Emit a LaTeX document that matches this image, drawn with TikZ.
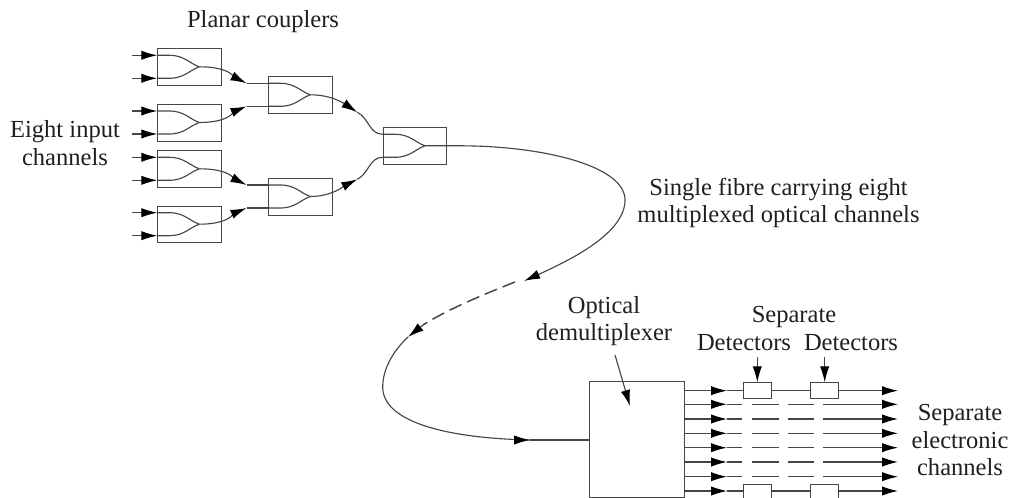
\documentclass[tikz,border=0pt]{standalone}
\usepackage{fontspec}
\setmainfont{Liberation Serif}
\usetikzlibrary{arrows.meta,calc}
\definecolor{ln}{gray}{0.27}
\tikzset{
 x=0.75pt,y=-0.75pt,
 fib/.style={draw=ln,line width=0.85pt},
 tip/.style={fib,-{Latex[length=12pt,width=7pt,black]}},
 boxn/.style={draw=ln,line width=0.85pt,minimum width=47.5pt,minimum height=27.5pt,inner sep=0,anchor=north west},
 det/.style={draw=ln,line width=0.85pt,minimum width=21pt,minimum height=11.5pt,inner sep=0},
 lab/.style={font=\fontsize{18.4}{20.6}\selectfont,align=center,text=black!88,inner sep=0},
}
\newcommand{\cpl}[3]{%
 \node[boxn] (#1) at (#2,#3) {};
 \coordinate (#1a) at (#2,#3+7);
 \coordinate (#1b) at (#2,#3+30);
 \coordinate (#1m) at (#2+42,#3+18.5);
 \coordinate (#1o) at (#2+64,#3+18.5);
 \draw[fib] (#1a) -- (#2+12,#3+7) .. controls (#2+27,#3+7) and (#2+32,#3+15) .. (#1m);
 \draw[fib] (#1b) -- (#2+12,#3+30) .. controls (#2+27,#3+30) and (#2+32,#3+22) .. (#1m);
}
\newcommand{\inp}[1]{%
 \coordinate (s) at ($(#1a)+(-25,0)$);
 \draw[tip] (s) -- (#1a);
 \coordinate (s) at ($(#1b)+(-25,0)$);
 \draw[tip] (s) -- (#1b);
}
\newcommand{\lnk}[3]{%
 \coordinate (t) at ($(#2)+(-21.7,0)$);
 \draw[fib] (t) -- (#2);
 \draw[tip] (#1) .. controls +(30,0) and +(#3) .. (t);
}
\begin{document}
\begin{tikzpicture}
\path[use as bounding box] (0,0) rectangle (1009,498);
\clip (0,0) rectangle (1009,498);
\cpl{A}{157.3}{48.3}
\cpl{B}{157.3}{104}
\cpl{C}{157.3}{150.3}
\cpl{D}{157.3}{205.7}
\cpl{E}{268.3}{76.3}
\cpl{F}{268.3}{178}
\cpl{G}{383}{127.3}
\inp{A}\inp{B}\inp{C}\inp{D}
\lnk{Am}{Ea}{-12,-6}
\lnk{Bm}{Eb}{-12,5}
\lnk{Cm}{Fa}{-12,-6}
\lnk{Dm}{Fb}{-12,5}
\coordinate (e1) at (357.3,112.3);
\coordinate (f1) at (357.3,179.3);
\draw[tip] (Em) .. controls +(22,0) and +(-12,-8) .. (e1);
\draw[tip] (Fm) .. controls +(22,0) and +(-12,6) .. (f1);
\draw[fib] (e1) .. controls +(12,6) and +(-14,0) .. (Ga);
\draw[fib] (f1) .. controls +(12,-6) and +(-14,0) .. (Gb);
\coordinate (q0) at (625,200);
\coordinate (p1) at (524,281);
\coordinate (p2) at (515,282);
\coordinate (p3) at (423,325);
\coordinate (p4) at (408,337);
\coordinate (q1) at (382.7,387);
\coordinate (p5) at (530,440);
\draw[fib] (Gm) -- (460,145.8) .. controls (540,145.8) and (625,165) .. (q0);
\draw[tip] (q0) .. controls (625,232) and (575,258) .. (p1);
\draw[fib,line width=1.1pt,dash pattern=on 10pt off 4.5pt] (p2) .. controls (485,294) and (450,308) .. (p3);
\draw[tip] (p3) -- (p4);
\draw[fib] (p4) .. controls (392,352) and (382.7,370) .. (q1) .. controls (382.7,420) and (440,438) .. (p5);
\node[draw=ln,line width=0.85pt,minimum width=71pt,minimum height=87pt,inner sep=0,anchor=north west] (dm) at (589,380.7) {};
\draw[tip] (515,440) -- (p5);
\draw[fib] (p5) -- (dm.west |- p5);
\node[det] (d1) at (757.3,390.5) {};
\node[det] (d2) at (824.7,390.5) {};
\node[det] (d3) at (757.3,492) {};
\node[det] (d4) at (824.7,492) {};
\coordinate (o1) at (898,390.7);
\coordinate (o8) at (898,491);
\coordinate (u1) at (727,390.7);
\coordinate (u8) at (727,491);
\foreach \a/\b in {u1/d1,u8/d3}{\draw[fib] (\a) -- (\a -| \b.west);}
\draw[tip] (dm.east |- u1) -- (u1);
\draw[tip] (dm.east |- u8) -- (u8);
\draw[fib] (d1.east |- u1) -- (d2.west |- u1);
\draw[fib] (d3.east |- u8) -- (d4.west |- u8);
\draw[tip] (d2.east |- o1) -- (o1);
\draw[tip] (d4.east |- o8) -- (o8);
\foreach \y in {404.3,419,433.3,447.7,462,476.7}{
 \coordinate (u) at (727,\y);
 \coordinate (o) at (898,\y);
 \draw[tip] (dm.east |- u) -- (u);
 \draw[fib] (727,\y) -- (742,\y) (752,\y) -- (779,\y) (788,\y) -- (814,\y) (823,\y) -- (885,\y);
 \draw[tip] (883,\y) -- (o);
}
\node[lab] (t1) at (263,22) {Planar couplers};
\node[lab] (t2) at (65,143) {Eight input\\channels};
\node[lab] (t3) at (778.5,203) {Single fibre carrying eight\\multiplexed optical channels};
\node[lab] (t4) at (604,321) {Optical\\demultiplexer};
\node[lab] (t5) at (794,317) {Separate};
\node[lab] (t7) at (744,343) {Detectors};
\node[lab] (t8) at (851,343) {Detectors};
\node[lab] (t6) at (960,440) {Separate\\electronic\\channels};
\coordinate (a1) at (615,355);
\coordinate (a2) at (630,406);
\draw[tip] (a1) -- (a2);
\coordinate (a3) at (757.3,357);
\coordinate (a4) at (824.7,357);
\draw[tip] (a3) -- (d1.north);
\draw[tip] (a4) -- (d2.north);
\end{tikzpicture}
\end{document}
